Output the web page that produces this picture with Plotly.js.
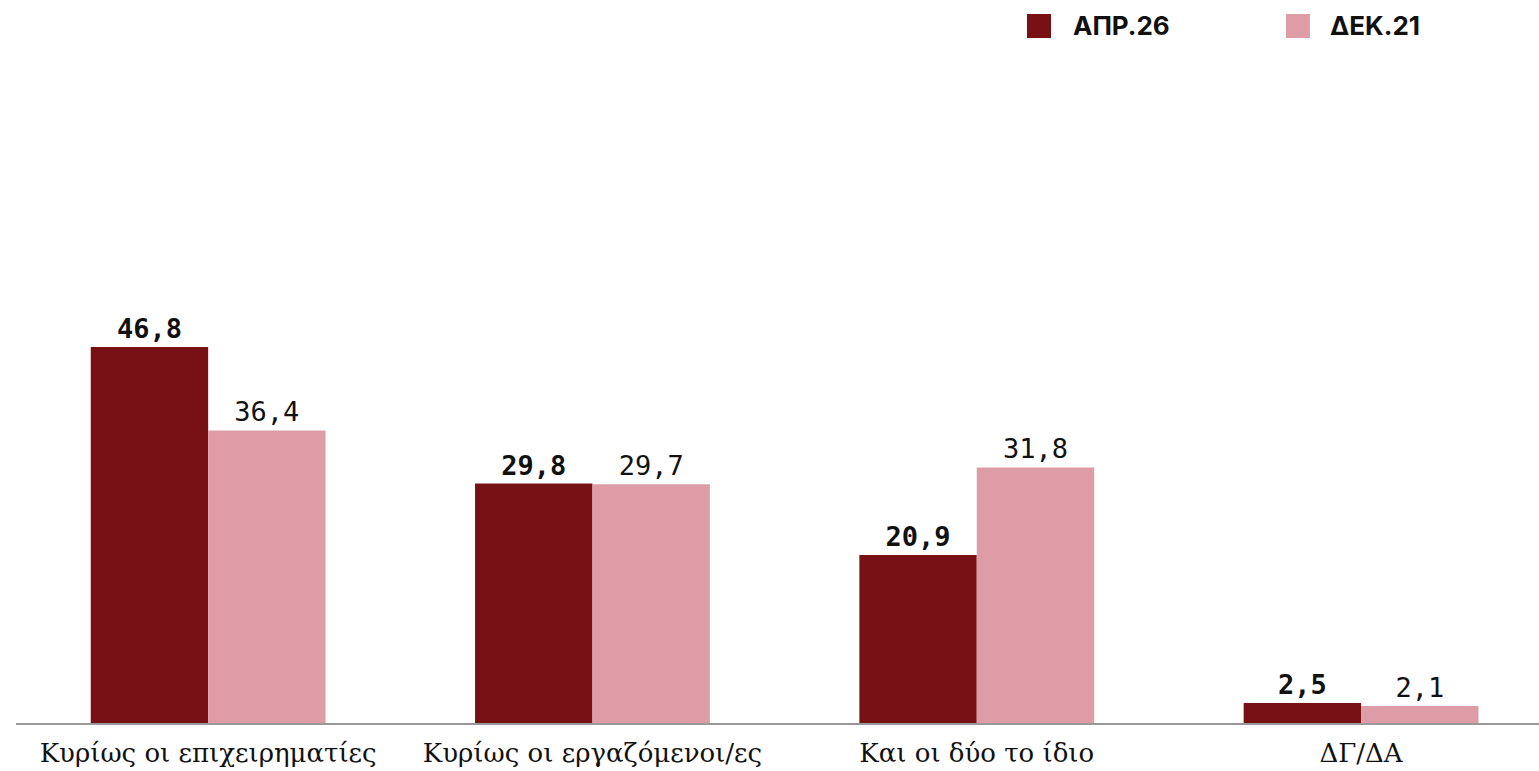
<!DOCTYPE html>
<html>
<head>
<meta charset="utf-8">
<script src="https://cdn.plot.ly/plotly-3.0.1.min.js"></script>
<style>html,body{margin:0;padding:0;background:#fff;}#chart{width:1539px;height:771px;}</style>
</head>
<body>
<div id="chart"></div>
<script>
const categories = ["Κυρίως οι επιχειρηματίες", "Κυρίως οι εργαζόμενοι/ες", "Και οι δύο το ίδιο", "ΔΓ/ΔΑ"];
const seriesNames = ["ΑΠΡ.26", "ΔΕΚ.21"];
const apr26 = [46.8, 29.8, 20.9, 2.5];
const dek21 = [36.4, 29.7, 31.8, 2.1];
const colors = ["#771116", "#DE9CA6"];

const fmt = v => v.toFixed(1).replace('.', ',');
const labelFont = {family: "DejaVu Sans Mono, monospace", size: 27, color: "#111"};

const traces = [
  {type: 'bar', name: seriesNames[0], x: categories, y: apr26, marker: {color: colors[0]},
   text: apr26.map(fmt), textposition: 'outside', cliponaxis: false,
   textfont: Object.assign({}, labelFont, {weight: 'bold'}), hoverinfo: 'x+y', showlegend: false},
  {type: 'bar', name: seriesNames[1], x: categories, y: dek21, marker: {color: colors[1]},
   text: dek21.map(fmt), textposition: 'outside', cliponaxis: false,
   textfont: Object.assign({}, labelFont, {weight: 'normal'}), hoverinfo: 'x+y', showlegend: false}
];

// legend drawn as paper-positioned swatches + labels
const legX = [[0.6638, 0.6796, 0.6927], [0.8339, 0.8496, 0.8615]];
const shapes = legX.map((p, i) => ({type: 'rect', xref: 'paper', yref: 'paper', x0: p[0], x1: p[1], y0: 1.0332, y1: 1.0694,
  fillcolor: colors[i], line: {width: 0}}));
const annotations = legX.map((p, i) => ({xref: 'paper', yref: 'paper', x: p[2], y: 1.0513, xanchor: 'left', yanchor: 'middle',
  text: seriesNames[i], showarrow: false, font: {family: 'Inter, sans-serif', size: 26, weight: 'bold', color: '#111'}}));

const layout = {
  width: 1539, height: 771,
  margin: {l: 16, r: 0, t: 60, b: 48},
  paper_bgcolor: '#fff', plot_bgcolor: '#fff',
  barmode: 'group', bargap: 0.389, bargroupgap: 0,
  showlegend: false,
  xaxis: {type: 'category', range: [-0.5, 3.463], showline: true, linecolor: '#999', linewidth: 2,
    ticks: '', showgrid: false, zeroline: false, ticklabelstandoff: 6,
    tickfont: {family: 'DejaVu Serif, serif', size: 26, color: '#111'}},
  yaxis: {range: [0, 82.5], showticklabels: false, showgrid: false, zeroline: false, showline: false, ticks: ''},
  shapes: shapes,
  annotations: annotations
};

Plotly.newPlot('chart', traces, layout, {displayModeBar: false, responsive: false});
</script>
</body>
</html>
